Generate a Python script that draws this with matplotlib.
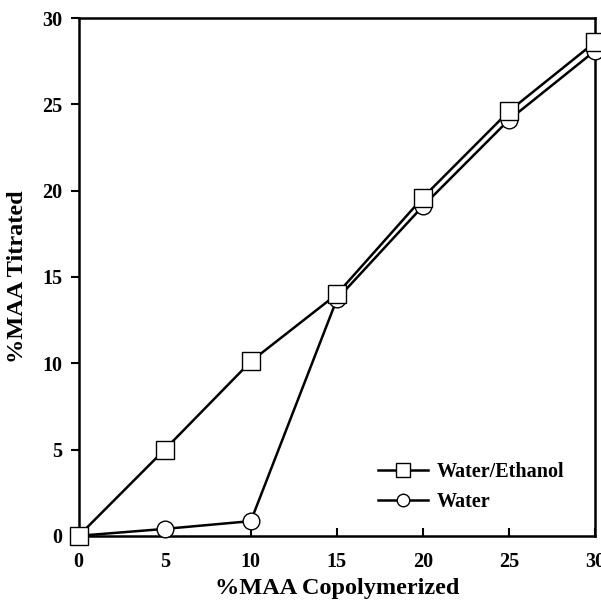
import matplotlib.pyplot as plt

# %MAA copolymerized vs %MAA titrated
copolymerized = [0, 5, 10, 15, 20, 25, 30]
water_ethanol = [0.0, 5.0, 10.1, 14.0, 19.6, 24.6, 28.6]
water = [0.0, 0.4, 0.85, 13.7, 19.1, 24.1, 28.1]

plt.rcParams["font.family"] = ["Liberation Serif", "DejaVu Serif"]
plt.rcParams["font.weight"] = "bold"

fig = plt.figure(figsize=(6.01, 6.0), dpi=100)
ax = fig.add_axes([0.131, 0.107, 0.859, 0.863])

ax.plot(copolymerized, water, color="black", lw=1.8, marker="o", ms=12,
        mfc="white", mec="black", mew=1.0, label="Water", clip_on=False, zorder=3)
ax.plot(copolymerized, water_ethanol, color="black", lw=1.8, marker="s", ms=12.5,
        mfc="white", mec="black", mew=1.0, label="Water/Ethanol", clip_on=False, zorder=4)

ax.set_xlim(0, 30)
ax.set_ylim(0, 30)
ax.set_xticks(range(0, 31, 5))
ax.set_yticks(range(0, 31, 5))

for s in ax.spines.values():
    s.set_linewidth(1.8)

ax.tick_params(axis="x", direction="in", length=6, width=1.5, labelsize=14.5, pad=12)
ax.tick_params(axis="y", direction="out", length=6, width=1.5, labelsize=14.5, pad=6)

ax.set_xlabel("%MAA Copolymerized", fontsize=17.5, fontweight="bold", labelpad=4)
ax.set_ylabel("%MAA Titrated", fontsize=17.5, fontweight="bold", labelpad=10)

handles, labels = ax.get_legend_handles_labels()
ax.legend(handles[::-1], labels[::-1], loc="lower right", frameon=False,
          bbox_to_anchor=(0.94, 0.045), borderpad=0, borderaxespad=0,
          prop={"weight": "bold", "size": 14.5}, labelspacing=0.5,
          handlelength=2.5, handletextpad=0.4, markerscale=0.75)

fig.savefig("out.png", dpi=100)
